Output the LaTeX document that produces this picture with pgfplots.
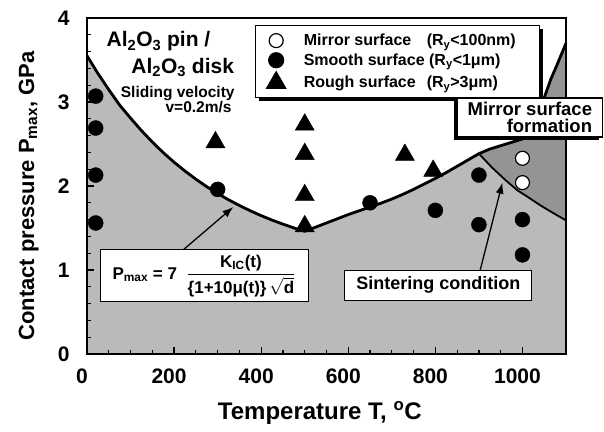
\documentclass[border=0pt]{standalone}
\usepackage{fontspec}
\setmainfont{Liberation Sans}
\usepackage{amsmath}
\usepackage{pgfplots}
\pgfplotsset{compat=1.18}
\usetikzlibrary{arrows.meta,shadows}

\begin{document}
\begin{tikzpicture}[font=\bfseries]
\useasboundingbox (-87pt,-77pt) rectangle (517pt,354pt);
\begin{axis}[
    scale only axis,
    width=479pt, height=336pt,
    xmin=0, xmax=1100, ymin=0, ymax=4,
    clip=false, axis on top,
    axis line style={line width=2pt},
    xtick={0,200,...,1000}, ytick={0,1,2,3,4},
    minor x tick num=3, minor y tick num=4,
    tick align=inside, xtick pos=left, ytick pos=left,
    major tick length=7pt, minor tick length=4pt,
    tick style={line width=1.2pt, black},
    /pgf/number format/assume math mode=true,
    /pgf/number format/1000 sep={},
    xticklabel style={font=\fontsize{21}{21}\selectfont\bfseries, xshift=-5pt, yshift=-11pt},
    yticklabel style={font=\fontsize{21}{21}\selectfont\bfseries, xshift=-14pt},
    xlabel={Temperature T, \textsuperscript{o}C},
    ylabel={Contact pressure P\textsubscript{max}, GPa},
    xlabel style={font=\fontsize{24}{24}\selectfont\bfseries, at={(rel axis cs:0.486,-0.196)}, anchor=base},
    ylabel style={font=\fontsize{22}{22}\selectfont\bfseries, at={(rel axis cs:-0.1106,0.47)}, anchor=base},
    legend image code/.code={\path (0pt,0pt) (47pt,0pt); \draw[#1] plot coordinates {(20pt,0pt)};},
    legend style={at={(rel axis cs:0.3507,0.9792)}, anchor=north west,
        draw=black, line width=1.2pt, fill=white,
        font=\fontsize{16}{18}\selectfont\bfseries,
        inner xsep=0pt, inner ysep=7pt,
        nodes={inner xsep=0pt, inner ysep=1.5pt},
        column sep=0pt, row sep=3.5pt,
        drop shadow={shadow xshift=3pt, shadow yshift=-3pt, fill=black, opacity=1}},
    legend cell align=left,
]
% sintering region (light)
\addplot[fill=black!27, draw=none, forget plot] coordinates {
    (0,3.550) (25,3.340) (50,3.147) (75,2.963) (100,2.808) (125,2.660)
    (150,2.523) (175,2.398) (200,2.283) (225,2.178) (250,2.081) (275,1.992)
    (300,1.911) (325,1.836) (350,1.768) (375,1.705) (400,1.647) (425,1.594)
    (450,1.546) (475,1.501) (500,1.461)
    (525,1.51) (550,1.56) (575,1.61) (600,1.66) (625,1.705) (650,1.75)
    (675,1.795) (700,1.845) (725,1.90) (750,1.96) (775,2.025) (800,2.09)
    (825,2.16) (850,2.235) (875,2.31) (900,2.385) (925,2.44) (950,2.48)
    (975,2.52) (1000,2.56) (1020,2.64) (1035,2.80) (1050,3.05) (1065,3.27)
    (1080,3.45) (1100,3.70)
} \closedcycle;
% mirror surface formation region (dark)
\addplot[fill=black!42, draw=none, forget plot] coordinates {
    (900,2.385) (925,2.44) (950,2.48) (975,2.52) (1000,2.56) (1020,2.64)
    (1035,2.80) (1050,3.05) (1065,3.27) (1080,3.45) (1100,3.70)
    (1100,1.59) (1070,1.68) (1041,1.77) (1015,1.86) (988,1.95) (961,2.07)
    (930,2.22) (900,2.385)
} -- cycle;
% boundary curves
\addplot[black, line width=2.8pt, line join=round, forget plot] coordinates {
    (0,3.550) (25,3.340) (50,3.147) (75,2.963) (100,2.808) (125,2.660)
    (150,2.523) (175,2.398) (200,2.283) (225,2.178) (250,2.081) (275,1.992)
    (300,1.911) (325,1.836) (350,1.768) (375,1.705) (400,1.647) (425,1.594)
    (450,1.546) (475,1.501) (500,1.461)
    (525,1.51) (550,1.56) (575,1.61) (600,1.66) (625,1.705) (650,1.75)
    (675,1.795) (700,1.845) (725,1.90) (750,1.96) (775,2.025) (800,2.09)
    (825,2.16) (850,2.235) (875,2.31) (900,2.385) (925,2.44) (950,2.48)
    (975,2.52) (1000,2.56) (1020,2.64) (1035,2.80) (1050,3.05) (1065,3.27)
    (1080,3.45) (1100,3.70)
};
\addplot[black, line width=1.8pt, line join=round, forget plot] coordinates {
    (900,2.385) (930,2.22) (961,2.07) (988,1.95) (1015,1.86) (1041,1.77)
    (1070,1.68) (1100,1.59)
};
% data
\addplot[only marks, mark=*, mark size=7pt, mark options={fill=white, draw=black, line width=1.2pt}]
    coordinates {(1000,2.33) (1000,2.04)};
\addlegendentry{\makebox[123pt][l]{Mirror surface}(R\textsubscript{y}<100nm)\hspace*{24pt}}
\addplot[only marks, mark=*, mark size=7.5pt, black]
    coordinates {(20,3.07) (20,2.69) (20,2.13) (20,1.56) (300,1.96) (650,1.80)
                 (800,1.71) (900,2.13) (900,1.54) (1000,1.60) (1000,1.18)};
\addlegendentry{Smooth surface (R\textsubscript{y}<1μm)}
\addplot[only marks, mark=triangle*, mark size=11pt, black]
    coordinates {(295,2.52) (500,2.73) (500,2.38) (500,1.89) (500,1.52)
                 (730,2.37) (795,2.18)};
\addlegendentry{\makebox[123pt][l]{Rough surface}(R\textsubscript{y}>3μm)}

% annotations
\draw[line width=1.3pt, -{Latex[length=11pt,width=8pt]}] (axis cs:221,1.24) -- (axis cs:336,1.75);
\draw[line width=1.3pt, -{Latex[length=11pt,width=8pt]}] (axis cs:903,1.0) -- (axis cs:954,2.04);

\node[anchor=base west, font=\fontsize{21}{21}\selectfont\bfseries] at (axis cs:37,3.655)
    {Al\textsubscript{2}O\textsubscript{3} pin /};
\node[anchor=base west, font=\fontsize{21}{21}\selectfont\bfseries] at (axis cs:94,3.345)
    {Al\textsubscript{2}O\textsubscript{3} disk};
\node[anchor=base east, font=\fontsize{15.5}{15.5}\selectfont\bfseries] at (axis cs:347,3.048)
    {Sliding velocity};
\node[anchor=base east, font=\fontsize{15.5}{15.5}\selectfont\bfseries] at (axis cs:340,2.88)
    {v=0.2m/s};

\node[draw=black, fill=white, line width=1pt, minimum width=208pt, minimum height=52pt,
      font=\fontsize{17}{20}\selectfont\bfseries] at (axis cs:268.7,0.929)
    {P\textsubscript{max} = 7 \ $\dfrac{\text{K\textsubscript{IC}(t)}}{\text{\{1+10μ(t)\}}\,\sqrt{\text{d}}}$};

\node[draw=black, fill=white, line width=1pt, minimum width=187pt, minimum height=30pt,
      font=\fontsize{18}{18}\selectfont\bfseries] at (axis cs:807,0.821)
    {Sintering condition};

\coordinate (mbox) at (axis cs:1017,2.815);
\end{axis}
\node[draw=black, fill=white, line width=1.2pt, minimum width=145pt, minimum height=39pt,
      align=right, font=\fontsize{18.5}{17}\selectfont\bfseries,
      drop shadow={shadow xshift=-3pt, shadow yshift=-3pt, fill=black, opacity=1}]
    at (mbox) {Mirror surface\\formation};
\end{tikzpicture}
\end{document}
